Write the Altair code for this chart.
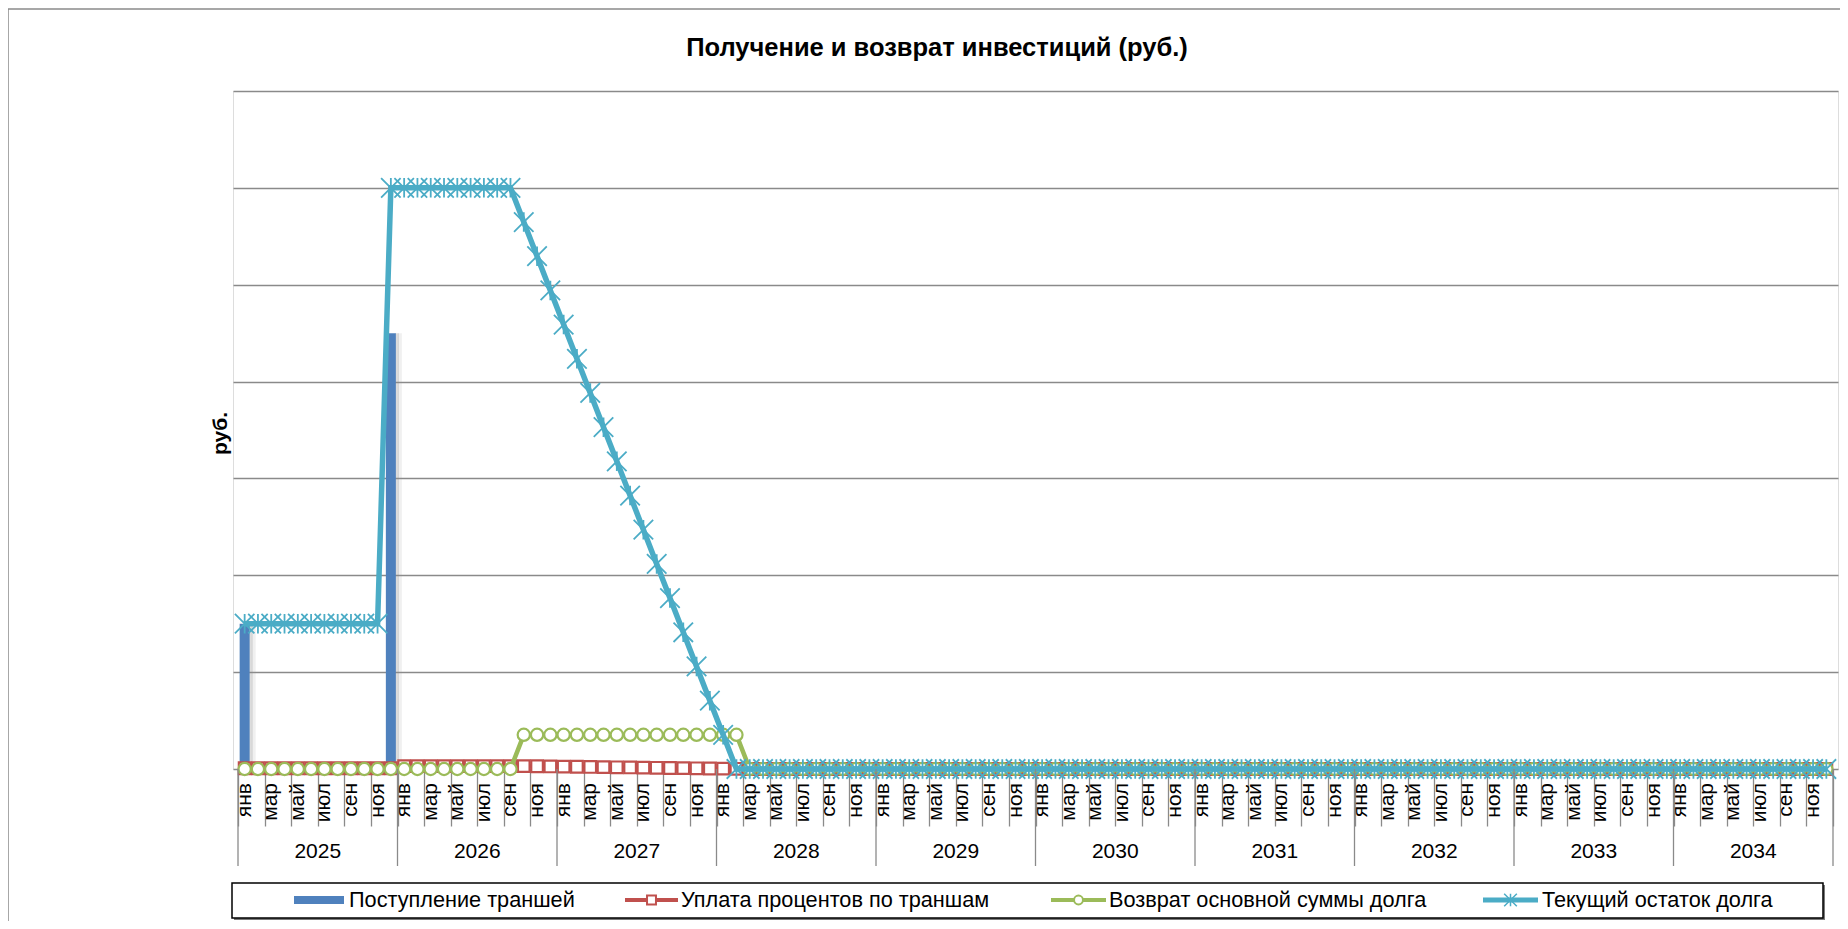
import altair as alt
import pandas as pd

# ---------------- data ----------------
month_names = ["янв", "фев", "мар", "апр", "май", "июн",
               "июл", "авг", "сен", "окт", "ноя", "дек"]
years = [2025, 2026, 2027, 2028, 2029, 2030, 2031, 2032, 2033, 2034]

series_names = ["Поступление траншей", "Уплата процентов по траншам",
                "Возврат основной суммы долга", "Текущий остаток долга"]

# Поступление траншей (руб.)
tranche = [15000000] + [0] * 10 + [45000000] + [0] * 108

# Уплата процентов по траншам (руб.)
interest = ([75000] * 12 + [300000] * 10 +
            [282353, 264706, 247059, 229412, 211765, 194118, 176471, 158824,
             141176, 123529, 105882, 88235, 70588, 52941, 35294, 17647] +
            [0] * 82)

# Возврат основной суммы долга (руб.)
principal = [0] * 21 + [3529412] * 17 + [0] * 82

# Текущий остаток долга (руб.)
balance = ([15000000] * 11 + [60000000] * 10 +
           [56470588, 52941176, 49411765, 45882353, 42352941, 38823529,
            35294118, 31764706, 28235294, 24705882, 21176471, 17647059,
            14117647, 10588235, 7058824, 3529412, 0] +
           [0] * 82)

y_ticks = [0, 10000000, 20000000, 30000000, 40000000, 50000000, 60000000, 70000000]

# ---------------- tables ----------------
n = len(years) * 12
df = pd.DataFrame({
    "t": [i + 0.5 for i in range(n)],
    "tranche": tranche,
    "interest": interest,
    "principal": principal,
    "balance": balance,
})
bars_df = df[df["tranche"] > 0]
lab_df = pd.DataFrame({
    "t": [i + 0.5 for i in range(n) if i % 2 == 0],
    "label": [month_names[i % 12] for i in range(n) if i % 2 == 0],
})
year_df = pd.DataFrame({"t": [k * 12 + 6 for k in range(len(years))],
                        "label": [str(y) for y in years]})
bound_df = pd.DataFrame({"b": [k * 12 for k in range(len(years) + 1)]})
one = pd.DataFrame({"a": [0]})

# ---------------- style ----------------
FONT = "Liberation Sans"
W, H = 1605, 678
GRID = "#8a8a8a"
BLUE = "#4F81BD"
RED = "#C0504D"
GREEN = "#9BBB59"
CYAN = "#4BACC6"
STAR = "M-1,-1L1,1M-1,1L1,-1M0,-1L0,1"

xscale = alt.Scale(domain=[0, n], nice=False, zero=False)
xaxis = alt.Axis(values=list(range(0, n + 1, 2)), labels=False, domain=False,
                 grid=False, ticks=True, tickSize=57, tickColor=GRID,
                 tickWidth=1.3, title=None)
yscale = alt.Scale(domain=[0, 70000000], nice=False, zero=True)
yaxis = alt.Axis(values=y_ticks, labels=False, ticks=False, domain=False,
                 grid=True, gridColor=GRID, gridWidth=1.3,
                 title="руб.", titleX=-13, titleY=342, titleAngle=270,
                 titleAlign="center", titleBaseline="middle",
                 titleFontSize=21, titleFontWeight="bold", titleFont=FONT,
                 titleColor="black")


def X(field):
    return alt.X(field, type="quantitative", scale=xscale, axis=xaxis)


def Y(field):
    return alt.Y(field, type="quantitative", scale=yscale, axis=yaxis)


layers = []

# chart area border
layers.append(alt.Chart(one).mark_rect(fill="white", fillOpacity=0, stroke=GRID,
                                       strokeWidth=1.5).encode(
    x=alt.value(-225), x2=alt.value(1700), y=alt.value(-82), y2=alt.value(1000)))

base = alt.Chart(df)

# bars (with soft shadow)
layers.append(alt.Chart(bars_df).mark_bar(size=4, xOffset=9, color="#9a9a9a",
                                          opacity=0.15).encode(
    x=X("t"), y=Y("tranche")))
layers.append(alt.Chart(bars_df).mark_bar(size=4, xOffset=6, color="#8a8a8a",
                                          opacity=0.3).encode(
    x=X("t"), y=Y("tranche")))
layers.append(alt.Chart(bars_df).mark_bar(size=10, color=BLUE).encode(
    x=X("t"), y=Y("tranche")))

# interest
layers.append(base.mark_line(color=RED, strokeWidth=4).encode(x=X("t"), y=Y("interest")))
layers.append(base.mark_point(shape="square", size=135, filled=True, fill="white",
                              stroke=RED, strokeWidth=2.2, opacity=1).encode(
    x=X("t"), y=Y("interest")))
# principal
layers.append(base.mark_line(color=GREEN, strokeWidth=4.5).encode(x=X("t"), y=Y("principal")))
layers.append(base.mark_point(shape="circle", size=150, filled=True, fill="white",
                              stroke=GREEN, strokeWidth=2.2, opacity=1).encode(
    x=X("t"), y=Y("principal")))
# balance
layers.append(base.mark_line(color=CYAN, strokeWidth=5.5).encode(x=X("t"), y=Y("balance")))
layers.append(base.mark_point(shape=STAR, size=380, filled=False, stroke=CYAN,
                              strokeWidth=1.8, opacity=1).encode(
    x=X("t"), y=Y("balance")))

# year separators
layers.append(alt.Chart(bound_df).mark_rule(color=GRID, strokeWidth=1.3).encode(
    x=X("b"), y=alt.value(H), y2=alt.value(H + 97)))

# month labels
layers.append(alt.Chart(lab_df).mark_text(angle=270, align="right", baseline="middle",
                                          fontSize=21, font=FONT, color="black").encode(
    x=X("t"), y=alt.value(H + 14), text="label:N"))
# year labels
layers.append(alt.Chart(year_df).mark_text(align="center", baseline="middle",
                                           fontSize=21, font=FONT, color="black").encode(
    x=X("t"), y=alt.value(H + 83), text="label:N"))

# title
layers.append(alt.Chart(one).mark_text(text="Получение и возврат инвестиций (руб.)",
                                       align="center", baseline="alphabetic",
                                       fontSize=25.5, fontWeight="bold", font=FONT,
                                       color="black").encode(
    x=alt.value(704), y=alt.value(-35)))

# legend box
LY = 809
layers.append(alt.Chart(one).mark_rect(fill="#7a7a7a").encode(
    x=alt.value(1), x2=alt.value(1592), y=alt.value(794), y2=alt.value(829)))
layers.append(alt.Chart(one).mark_rect(fill="white", stroke="black", strokeWidth=1.5).encode(
    x=alt.value(-1), x2=alt.value(1590), y=alt.value(792), y2=alt.value(827)))

# legend entry 1: bar
layers.append(alt.Chart(one).mark_rect(fill=BLUE).encode(
    x=alt.value(61), x2=alt.value(111), y=alt.value(LY - 4), y2=alt.value(LY + 4)))
# legend entries 2-4: line + marker
legend_specs = [
    (RED, 392, 445, "square", 80, True, 4),
    (GREEN, 818, 873, "circle", 80, True, 4),
    (CYAN, 1250, 1305, STAR, 160, False, 5),
]
for col, xa, xb, shp, sz, fil, sw in legend_specs:
    layers.append(alt.Chart(one).mark_rule(color=col, strokeWidth=sw).encode(
        x=alt.value(xa), x2=alt.value(xb), y=alt.value(LY)))
    if fil:
        layers.append(alt.Chart(one).mark_point(shape=shp, size=sz, filled=True, fill="white",
                                                stroke=col, strokeWidth=2, opacity=1).encode(
            x=alt.value((xa + xb) / 2), y=alt.value(LY)))
    else:
        layers.append(alt.Chart(one).mark_point(shape=shp, size=sz, filled=False,
                                                stroke=col, strokeWidth=1.5, opacity=1).encode(
            x=alt.value((xa + xb) / 2), y=alt.value(LY)))

text_x = [116, 448, 876, 1309]
for name, tx in zip(series_names, text_x):
    layers.append(alt.Chart(one).mark_text(text=name, align="left", baseline="middle",
                                           fontSize=21.7, font=FONT, color="black").encode(
        x=alt.value(tx), y=alt.value(LY)))

chart = alt.layer(*layers).properties(
    width=W, height=H,
    autosize=alt.AutoSizeParams(type="none"),
    padding={"left": 225, "top": 83, "right": 2, "bottom": 152},
).configure_view(stroke=None).configure(background="white")

chart.save("out.html", embed_options={"renderer": "svg", "actions": False})
